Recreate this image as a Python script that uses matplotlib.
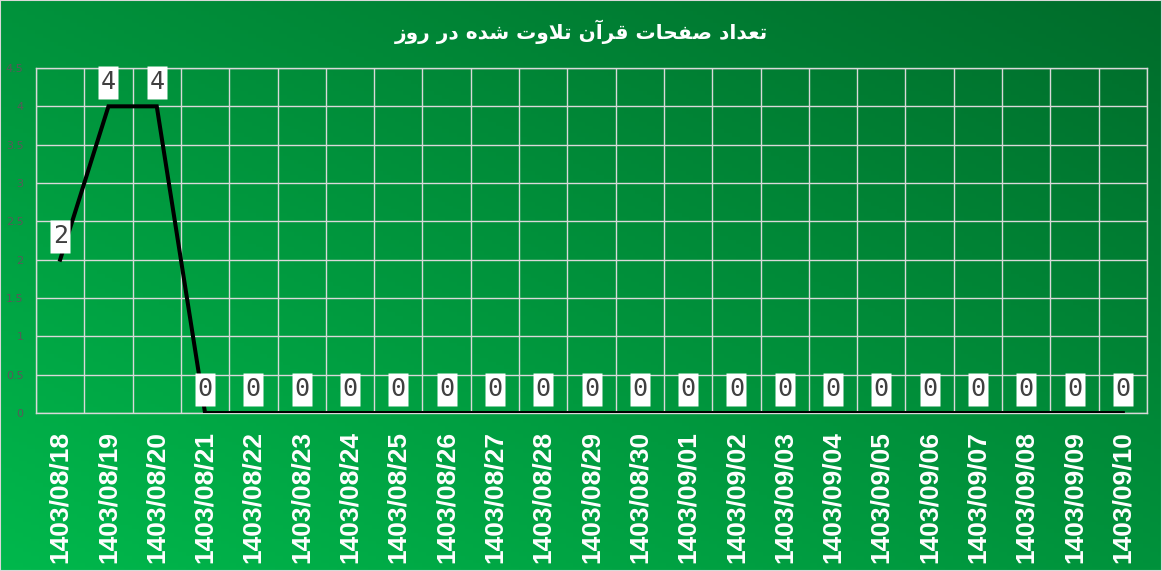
import numpy as np
import matplotlib
matplotlib.use('Agg')
import matplotlib.pyplot as plt
from matplotlib.patches import Rectangle
from matplotlib.path import Path
from matplotlib.transforms import offset_copy

# data
dates = ['1403/08/18', '1403/08/19', '1403/08/20', '1403/08/21', '1403/08/22',
         '1403/08/23', '1403/08/24', '1403/08/25', '1403/08/26', '1403/08/27',
         '1403/08/28', '1403/08/29', '1403/08/30', '1403/09/01', '1403/09/02',
         '1403/09/03', '1403/09/04', '1403/09/05', '1403/09/06', '1403/09/07',
         '1403/09/08', '1403/09/09', '1403/09/10']
pages = [2, 4, 4, 0, 0, 0, 0, 0, 0, 0, 0, 0, 0, 0, 0, 0, 0, 0, 0, 0, 0, 0, 0]
yticks = [0, 0.5, 1, 1.5, 2, 2.5, 3, 3.5, 4, 4.5]
ytick_labels = ['0', '0.5', '1', '1.5', '2', '2.5', '3', '3.5', '4', '4.5']

# title: "تعداد صفحات قرآن تلاوت شده در روز" in joined (presentation) forms,
# written in logical order and reversed for left-to-right drawing
title_glyphs = ('\uFE97\uFECC\uFEAA\uFE8D\uFEA9 '
                '\uFEBB\uFED4\uFEA4\uFE8E\uFE95 '
                '\uFED7\uFEAE\uFE81\uFEE5 '
                '\uFE97\uFEFC\uFEED\uFE95 '
                '\uFEB7\uFEAA\uFEE9 '
                '\uFEA9\uFEAD '
                '\uFEAD\uFEED\uFEAF')
title = title_glyphs[::-1]

fig = plt.figure(figsize=(11.62, 5.71), dpi=100)

# diagonal green gradient background
bg = fig.add_axes([0, 0, 1, 1], zorder=-10)
u = np.linspace(0, 1, 300)
v = np.linspace(0, 1, 150)
U, V = np.meshgrid(u, v)
t = (U + V) / 2
c0 = np.array([0, 184, 76]) / 255
c1 = np.array([0, 108, 43]) / 255
img = c0[None, None, :] + t[:, :, None] * (c1 - c0)[None, None, :]
bg.imshow(img, origin='lower', extent=[0, 1, 0, 1], aspect='auto')
bg.set_axis_off()

ax = fig.add_axes([36 / 1162, 1 - 413 / 571, (1147 - 36) / 1162, (413 - 68) / 571])
ax.set_facecolor('none')

x = np.arange(len(dates))
ax.plot(x, pages, color='black', lw=2.9, solid_joinstyle='miter', zorder=3)

# data labels: tall white boxes 24 px above each point
lab_tr = offset_copy(ax.transData, fig=fig, x=0, y=24, units='dots')
box = Path([(-10, -16.5), (10, -16.5), (10, 16.5), (-10, 16.5), (-10, -16.5)],
           [Path.MOVETO, Path.LINETO, Path.LINETO, Path.LINETO, Path.CLOSEPOLY])
ax.plot(x, pages, ls='none', marker=box, ms=33 * 72 / 100, mfc='white',
        mec='none', transform=lab_tr, zorder=4, clip_on=False)
for xi, yi in zip(x, pages):
    ax.text(xi, yi, str(yi), transform=lab_tr, ha='center', va='center',
            fontsize=18, family='DejaVu Sans Mono', color='#404040', zorder=5)

ax.set_xlim(-0.5, len(dates) - 0.5)
ax.set_ylim(0, 4.5)
ax.set_yticks(yticks)
ax.set_yticklabels(ytick_labels, color='#595959', fontsize=8)
ax.set_xticks(x)
ax.set_xticklabels(dates, rotation=90, color='white', fontsize=19,
                   fontweight='bold', family='Liberation Sans')
ax.set_xticks(np.arange(-0.5, len(dates), 1), minor=True)
ax.tick_params(axis='both', which='both', length=0)
ax.tick_params(axis='x', pad=13)
ax.tick_params(axis='y', pad=9)
ax.grid(axis='y', which='major', color='#d9d9d9', lw=1)
ax.grid(axis='x', which='minor', color='#d9d9d9', lw=1)
for s in ax.spines.values():
    s.set_color('#d9d9d9')
    s.set_linewidth(1)
ax.set_axisbelow(True)

fig.text(0.5, 1 - 32 / 571, title, ha='center', va='center', color='white',
         fontsize=14.5, fontweight='bold', family='DejaVu Sans')

fig.patches.append(Rectangle((0, 0), 1, 1, transform=fig.transFigure, fill=False,
                             ec='#d9d9d9', lw=1.5, zorder=20))

fig.savefig('out.png', dpi=100)
